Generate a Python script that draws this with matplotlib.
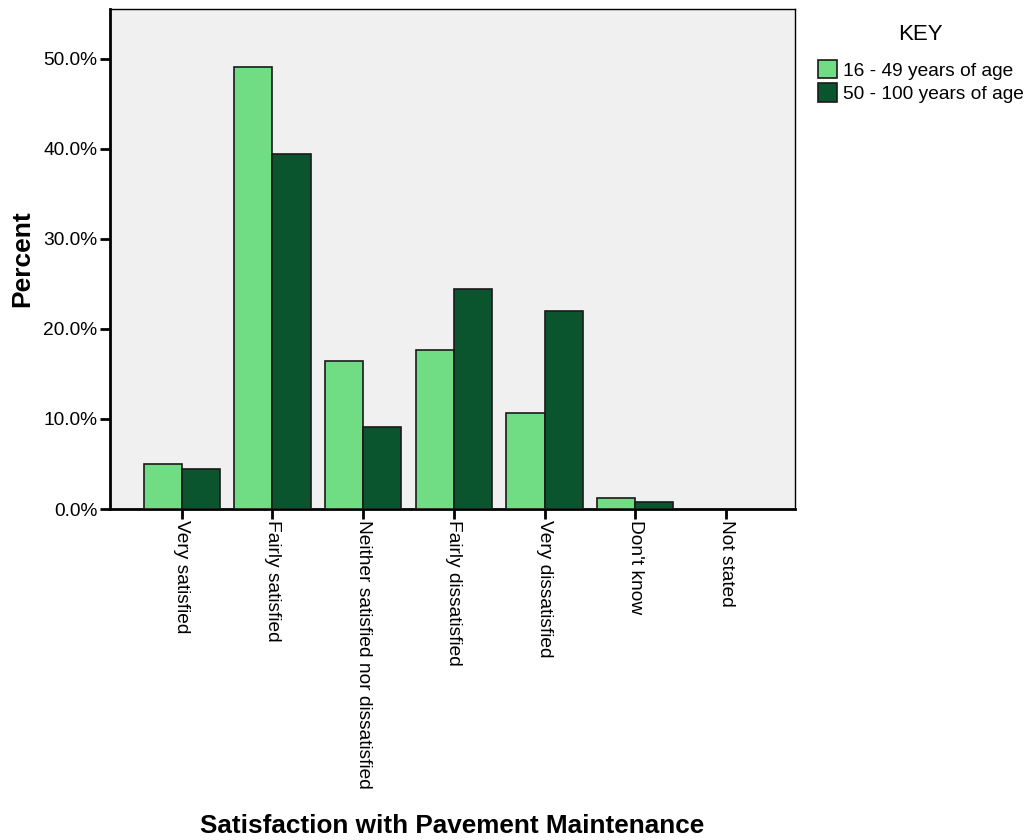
import numpy as np
from matplotlib import pyplot as plt

categories = ["Very satisfied", "Fairly satisfied", "Neither satisfied nor dissatisfied",
              "Fairly dissatisfied", "Very dissatisfied", "Don't know", "Not stated"]
young = [5.0, 49.1, 16.4, 17.6, 10.7, 1.2, 0.0]
old = [4.4, 39.4, 9.1, 24.4, 22.0, 0.8, 0.0]
series_names = ["16 - 49 years of age", "50 - 100 years of age"]
yticks = [0, 10, 20, 30, 40, 50]


def main():
    plt.rcParams['font.family'] = ['Liberation Sans', 'DejaVu Sans']
    fig = plt.figure(figsize=(10.32, 8.4), dpi=100)
    ax = fig.add_axes([0.1066, 0.394, 0.6637, 0.5953])
    ax.set_facecolor('#f0f0f0')

    x = np.arange(len(categories))
    w = 0.42
    ax.bar(x - w / 2, young, w, color='#70dc84', edgecolor='#1a1a1a', linewidth=1.2,
           label=series_names[0], zorder=3)
    ax.bar(x + w / 2, old, w, color='#0a552e', edgecolor='#1a1a1a', linewidth=1.2,
           label=series_names[1], zorder=3)

    ax.set_xlim(-0.79, 6.76)
    ax.set_ylim(0, 55.5)
    ax.set_yticks(yticks)
    ax.set_yticklabels(["%.1f%%" % v for v in yticks], fontsize=13.8)
    ax.set_xticks(x)
    ax.set_xticklabels(categories, rotation=-90, fontsize=13.8, va='top', ha='center')
    ax.tick_params(axis='both', direction='out', length=7, width=2, color='black')
    ax.tick_params(axis='x', pad=1)
    ax.tick_params(axis='y', pad=2)
    for s in ['left', 'bottom']:
        ax.spines[s].set_linewidth(2)
    for s in ['top', 'right']:
        ax.spines[s].set_linewidth(1)

    fig.text(22 / 1032, 1 - 259 / 840, "Percent", rotation=90, fontsize=19,
             fontweight='bold', ha='center', va='center')
    fig.text(452 / 1032, 1 - 826 / 840, "Satisfaction with Pavement Maintenance",
             fontsize=18.8, fontweight='bold', ha='center', va='center')

    leg = fig.legend(loc='upper left', bbox_to_anchor=(810 / 1032, 1 - 16 / 840),
                     frameon=False, title="KEY", fontsize=13.8, title_fontsize=16,
                     handlelength=1.0, handleheight=1.1, handletextpad=0.3,
                     labelspacing=0.2, borderaxespad=0)
    leg._legend_box.align = "center"
    leg._legend_box.sep = 11

    fig.savefig("out.png", dpi=100)


if __name__ == "__main__":
    main()
